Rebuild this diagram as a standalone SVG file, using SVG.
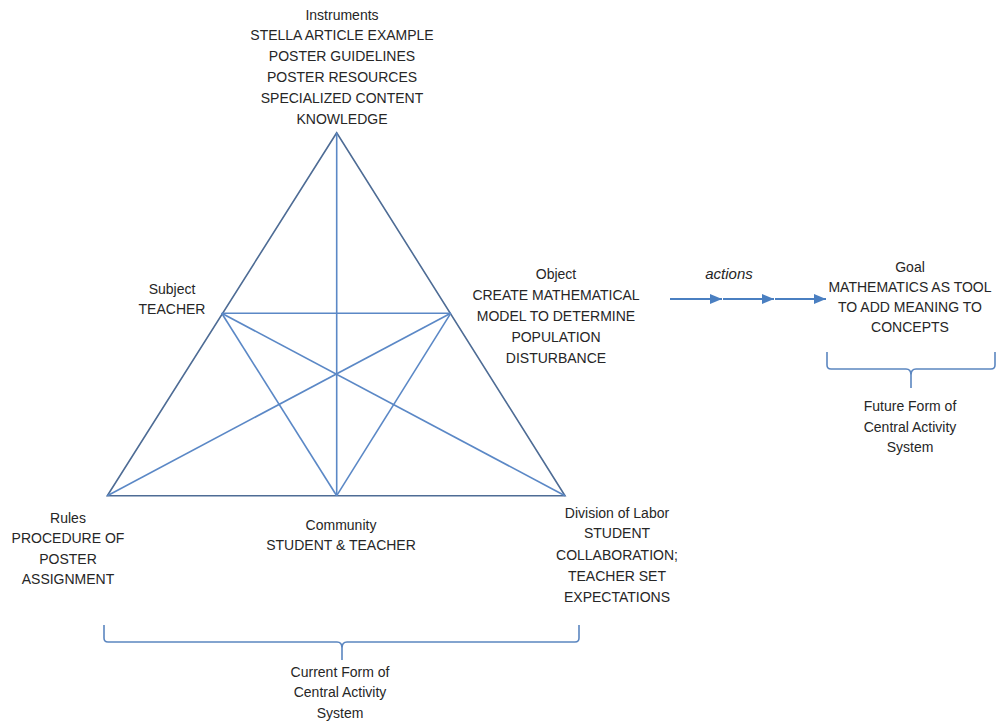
<svg xmlns="http://www.w3.org/2000/svg" width="1003" height="723" viewBox="0 0 1003 723">
  <style>
    text { font-family: "Liberation Sans", Arial, sans-serif; font-size: 14px; fill: #262626; text-anchor: middle; }
    .outer { stroke: #4e6c95; stroke-width: 1.6; fill: none; }
    .inner { stroke: #5b88c6; stroke-width: 1.6; fill: none; }
    .brace { stroke: #5b86c0; stroke-width: 1.6; fill: none; }
    .flow { stroke: #4a7fc1; stroke-width: 1.8; fill: none; }
    .italic { font-style: italic; font-size: 15px; }
  </style>
  <defs>
    <marker id="tri" viewBox="0 0 12 10" refX="12" refY="5" markerWidth="12" markerHeight="10" markerUnits="userSpaceOnUse" orient="auto">
      <path d="M0,0 L12,5 L0,10 Z" fill="#4a7fc1"/>
    </marker>
  </defs>

  <rect width="1003" height="723" fill="#ffffff"/>

  <!-- activity triangle and its internal links -->
  <g id="connectors">
    <path class="outer" d="M336.7,132.7 L107.3,495.7 L565,495.7 Z"/>
    <line class="inner" x1="336.7" y1="132.7" x2="336.7" y2="495.7"/>
    <line class="inner" x1="221.7" y1="313.3" x2="450.7" y2="313.3"/>
    <line class="inner" x1="221.7" y1="313.3" x2="336.7" y2="495.7"/>
    <line class="inner" x1="221.7" y1="313.3" x2="565" y2="495.7"/>
    <line class="inner" x1="450.7" y1="313.3" x2="107.3" y2="495.7"/>
    <line class="inner" x1="450.7" y1="313.3" x2="336.7" y2="495.7"/>

    <!-- actions leading to the goal -->
    <line class="flow" x1="670" y1="299" x2="722" y2="299" marker-end="url(#tri)"/>
    <line class="flow" x1="723" y1="299" x2="774" y2="299" marker-end="url(#tri)"/>
    <line class="flow" x1="775" y1="299" x2="826" y2="299" marker-end="url(#tri)"/>

    <!-- braces -->
    <path class="brace" d="M104,625 L104,638 Q104,642 108,642 L337,642 Q342,642 342,648 L342,660 M342,648 Q342,642 347,642 L575,642 Q579,642 579,638 L579,625"/>
    <path class="brace" d="M827,352 L827,365 Q827,369 831,369 L906,369 Q911,369 911,375 L911,388 M911,375 Q911,369 916,369 L991,369 Q995,369 995,365 L995,352"/>
  </g>

  <g id="instruments">
    <text x="342" y="19.5">Instruments</text>
    <text x="342" y="40.4">STELLA ARTICLE EXAMPLE</text>
    <text x="342" y="61.3">POSTER GUIDELINES</text>
    <text x="342" y="82.2">POSTER RESOURCES</text>
    <text x="342" y="103.1">SPECIALIZED CONTENT</text>
    <text x="342" y="124">KNOWLEDGE</text>
  </g>

  <g id="subject">
    <text x="172" y="294">Subject</text>
    <text x="172" y="314">TEACHER</text>
  </g>

  <g id="object">
    <text x="556" y="279">Object</text>
    <text x="556" y="300">CREATE MATHEMATICAL</text>
    <text x="556" y="321">MODEL TO DETERMINE</text>
    <text x="556" y="342">POPULATION</text>
    <text x="556" y="363">DISTURBANCE</text>
  </g>

  <g id="rules">
    <text x="68" y="523">Rules</text>
    <text x="68" y="543">PROCEDURE OF</text>
    <text x="68" y="564">POSTER</text>
    <text x="68" y="584">ASSIGNMENT</text>
  </g>

  <g id="community">
    <text x="341" y="530">Community</text>
    <text x="341" y="550">STUDENT &amp; TEACHER</text>
  </g>

  <g id="division-of-labor">
    <text x="617" y="518">Division of Labor</text>
    <text x="617" y="538">STUDENT</text>
    <text x="617" y="560">COLLABORATION;</text>
    <text x="617" y="581">TEACHER SET</text>
    <text x="617" y="602">EXPECTATIONS</text>
  </g>

  <g id="actions">
    <text class="italic" x="729" y="279">actions</text>
  </g>

  <g id="goal">
    <text x="910" y="272">Goal</text>
    <text x="910" y="292">MATHEMATICS AS TOOL</text>
    <text x="910" y="312">TO ADD MEANING TO</text>
    <text x="910" y="332">CONCEPTS</text>
  </g>

  <g id="current-form">
    <text x="340" y="677">Current Form of</text>
    <text x="340" y="697">Central Activity</text>
    <text x="340" y="718">System</text>
  </g>

  <g id="future-form">
    <text x="910" y="411">Future Form of</text>
    <text x="910" y="432">Central Activity</text>
    <text x="910" y="452">System</text>
  </g>
</svg>
